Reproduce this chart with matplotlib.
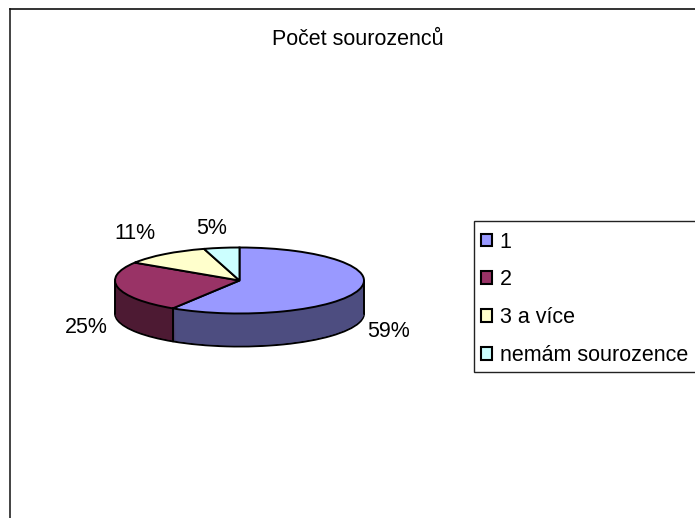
import numpy as np
import matplotlib
matplotlib.use("Agg")
import matplotlib.pyplot as plt
from matplotlib.lines import Line2D
from matplotlib.patches import Rectangle

plt.rcParams['font.family'] = ['Liberation Sans', 'DejaVu Sans']

title = "Počet sourozenců"
categories = ["1", "2", "3 a více", "nemám sourozence"]
values = [59.0, 25.1, 11.3, 4.6]
top_colors = ["#9999FF", "#993366", "#FFFFCC", "#CCFFFF"]
side_colors = ["#4D4D80", "#4D1A33", "#808066", "#668080"]

W, H = 695, 518
FS = 15.5
FS_LEG = 15.5
LW = 1.4
fig = plt.figure(figsize=(W / 100, H / 100), dpi=100, facecolor="white")

# ellipse geometry in pixels
cx, cy, rx, ry, depth = 239.5, 280.5, 124.5, 33.0, 33.0
xlim = (-1.2, 1.2)
ylim = (-2.4, 1.4)
ax_w = rx * (xlim[1] - xlim[0])
ax_h = ry * (ylim[1] - ylim[0])
ax = fig.add_axes([(cx + rx * xlim[0]) / W, 1 - (cy - ry * ylim[0]) / H, ax_w / W, ax_h / H])

d = depth / ry
pie_kw = dict(startangle=90, counterclock=False, radius=1)
edge = dict(edgecolor="black", linewidth=LW)

# bottom rim
ax.pie(values, colors=side_colors, center=(0, -d), wedgeprops=edge, **pie_kw)
# body of the cylinder
for off in np.arange(d - 0.03, 0.0, -0.03):
    ax.pie(values, colors=side_colors, center=(0, -off),
           wedgeprops=dict(edgecolor="none", linewidth=0), **pie_kw)
# top face
wedges, _ = ax.pie(values, colors=top_colors, center=(0, 0), wedgeprops=edge, **pie_kw)

# silhouette and slice boundary on the side wall
ax.plot([-1, -1], [0, -d], color="black", lw=LW, solid_capstyle="round")
ax.plot([1, 1], [0, -d], color="black", lw=LW, solid_capstyle="round")
theta = 2 * np.pi * values[0] / sum(values)
ax.plot([np.sin(theta)] * 2, [np.cos(theta), np.cos(theta) - d], color="black", lw=LW)

ax.set_aspect("auto")
ax.set_xlim(*xlim)
ax.set_ylim(*ylim)
ax.axis("off")


def ftext(x, y, s, **kw):
    fig.text(x / W, 1 - y / H, s, ha="center", va="center", fontsize=FS, color="black", **kw)


ftext(357.5, 39.6, title)
label_pos = [(389, 331.6), (86, 327.6), (135, 233.6), (212, 228.6)]
for v, (x, y) in zip(values, label_pos):
    ftext(x, y, f"{v:.0f}%")

# outer chart frame, cut off by the figure on the right and bottom
fig.add_artist(Line2D([9.5 / W, 9.5 / W], [0, 1 - 9 / H], color="#222222", lw=1.2))
fig.add_artist(Line2D([9.5 / W, 1], [1 - 9 / H, 1 - 9 / H], color="#111111", lw=1.2))

# legend box, running past the right edge of the figure
fig.add_artist(Rectangle((473.5 / W, 1 - 372 / H), 240 / W, 151 / H, transform=fig.transFigure,
                         facecolor="white", edgecolor="#222222", linewidth=1.0))
leg = fig.legend(wedges, categories, loc="upper left",
                 bbox_to_anchor=(481 / W, 1 - 231.5 / H), bbox_transform=fig.transFigure,
                 borderaxespad=0, fontsize=FS_LEG, frameon=False, borderpad=0,
                 handlelength=0.53, handleheight=0.53, handletextpad=0.33,
                 labelspacing=0.78)
for h in leg.legend_handles:
    h.set_linewidth(1.5)

fig.savefig("out.png", dpi=100, facecolor="white")
